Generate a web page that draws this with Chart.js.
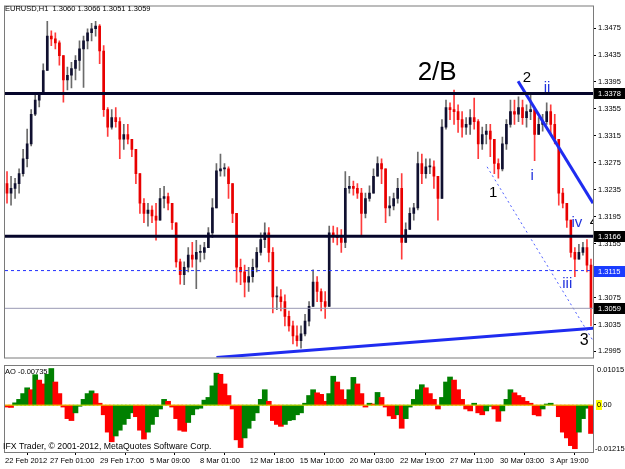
<!DOCTYPE html>
<html>
<head>
<meta charset="utf-8">
<script src="https://cdn.jsdelivr.net/npm/chart.js@4.4.0/dist/chart.umd.min.js"></script>
<style>
  html, body { margin: 0; padding: 0; background: #fff; }
  #wrap { position: relative; width: 625px; height: 469px; overflow: hidden; }
  #priceChart { position: absolute; left: 0; top: 0; }
  #aoChart { position: absolute; left: 0; top: 364px; }
</style>
</head>
<body>
<div id="wrap">
  <canvas id="priceChart" width="625" height="364"></canvas>
  <canvas id="aoChart" width="625" height="105"></canvas>
</div>
<script>
// EURUSD H1, 22 Feb - 4 Apr 2012, one candle per ~5 hourly bars
const firstOpen = 1.3244;
const highs = [
  1.3262,1.3255,1.3252,1.3266,1.3295,1.3325,1.3354,1.3376,1.3379,1.3422,
  1.3485,1.3471,1.3468,1.3456,1.3434,1.3417,1.3424,1.3434,1.3456,1.3463,
  1.3474,1.3482,1.3485,1.3480,1.3449,1.3357,1.3354,1.3357,1.3342,1.3332,
  1.3332,1.3310,1.3295,1.3259,1.3222,1.3215,1.3211,1.3215,1.3237,1.3240,
  1.3230,1.3215,1.3186,1.3132,1.3128,1.3149,1.3157,1.3160,1.3153,1.3157,
  1.3179,1.3222,1.3274,1.3288,1.3274,1.3269,1.3244,1.3200,1.3132,1.3123,
  1.3120,1.3132,1.3149,1.3171,1.3186,1.3179,1.3149,1.3091,1.3087,1.3079,
  1.3055,1.3040,1.3033,1.3033,1.3050,1.3069,1.3116,1.3106,1.3088,1.3084,
  1.3181,1.3181,1.3179,1.3176,1.3262,1.3255,1.3248,1.3244,1.3237,1.3230,
  1.3241,1.3266,1.3284,1.3281,1.3266,1.3225,1.3230,1.3252,1.3259,1.3186,
  1.3208,1.3215,1.3291,1.3288,1.3281,1.3281,1.3278,1.3255,1.3339,1.3368,
  1.3364,1.3383,1.3361,1.3351,1.3342,1.3354,1.3371,1.3339,1.3328,1.3332,
  1.3332,1.3310,1.3281,1.3313,1.3339,1.3368,1.3368,1.3373,1.3368,1.3361,
  1.3379,1.3354,1.3342,1.3347,1.3364,1.3361,1.3347,1.3310,1.3237,1.3215,
  1.3190,1.3149,1.3154,1.3157,1.3161,1.3132
];
const lows = [
  1.3215,1.3212,1.3222,1.3230,1.3255,1.3269,1.3300,1.3345,1.3358,1.3376,
  1.3412,1.3449,1.3444,1.3420,1.3365,1.3383,1.3386,1.3398,1.3412,1.3387,
  1.3444,1.3456,1.3463,1.3422,1.3344,1.3314,1.3325,1.3328,1.3281,1.3295,
  1.3303,1.3284,1.3244,1.3200,1.3186,1.3181,1.3186,1.3160,1.3190,1.3208,
  1.3205,1.3176,1.3120,1.3095,1.3094,1.3113,1.3120,1.3088,1.3128,1.3132,
  1.3149,1.3164,1.3208,1.3255,1.3255,1.3222,1.3186,1.3098,1.3094,1.3076,
  1.3084,1.3098,1.3113,1.3138,1.3149,1.3128,1.3052,1.3057,1.3055,1.3033,
  1.3025,1.3006,1.3003,1.3000,1.3018,1.3033,1.3062,1.3069,1.3055,1.3044,
  1.3062,1.3157,1.3153,1.3142,1.3149,1.3230,1.3227,1.3222,1.3168,1.3193,
  1.3218,1.3230,1.3255,1.3244,1.3186,1.3196,1.3205,1.3215,1.3132,1.3157,
  1.3176,1.3190,1.3205,1.3244,1.3252,1.3259,1.3237,1.3190,1.3222,1.3325,
  1.3339,1.3332,1.3320,1.3313,1.3317,1.3317,1.3325,1.3281,1.3295,1.3303,
  1.3284,1.3259,1.3252,1.3263,1.3295,1.3328,1.3332,1.3336,1.3332,1.3328,
  1.3339,1.3278,1.3317,1.3322,1.3332,1.3317,1.3303,1.3212,1.3208,1.3179,
  1.3135,1.3106,1.3132,1.3138,1.3113,1.3033
];
const closes = [
  1.3230,1.3237,1.3244,1.3259,1.3281,1.3303,1.3347,1.3368,1.3376,1.3412,
  1.3463,1.3459,1.3453,1.3434,1.3398,1.3405,1.3415,1.3427,1.3444,1.3456,
  1.3468,1.3474,1.3478,1.3441,1.3354,1.3328,1.3342,1.3336,1.3310,1.3317,
  1.3310,1.3295,1.3259,1.3215,1.3200,1.3205,1.3196,1.3190,1.3222,1.3225,
  1.3215,1.3186,1.3128,1.3109,1.3120,1.3138,1.3132,1.3142,1.3142,1.3149,
  1.3171,1.3208,1.3263,1.3266,1.3266,1.3244,1.3200,1.3120,1.3113,1.3098,
  1.3106,1.3120,1.3142,1.3161,1.3171,1.3142,1.3076,1.3076,1.3069,1.3047,
  1.3033,1.3018,1.3011,1.3021,1.3040,1.3062,1.3098,1.3084,1.3069,1.3062,
  1.3171,1.3167,1.3164,1.3157,1.3237,1.3240,1.3237,1.3230,1.3200,1.3222,
  1.3230,1.3255,1.3274,1.3266,1.3208,1.3211,1.3222,1.3237,1.3157,1.3176,
  1.3200,1.3208,1.3274,1.3259,1.3269,1.3269,1.3255,1.3222,1.3328,1.3357,
  1.3354,1.3351,1.3339,1.3328,1.3332,1.3342,1.3336,1.3303,1.3317,1.3322,
  1.3310,1.3274,1.3266,1.3303,1.3332,1.3351,1.3347,1.3357,1.3342,1.3351,
  1.3354,1.3317,1.3332,1.3336,1.3351,1.3332,1.3310,1.3230,1.3215,1.3190,
  1.3142,1.3132,1.3142,1.3149,1.3123,1.3059
];

// Awesome Oscillator, same columns
const aoValues = [
  -0.0005,-0.0006,0.0006,0.0015,0.0030,0.0045,0.0040,0.0079,0.0065,0.0055,
  0.0080,0.0095,0.0060,0.0030,-0.0005,-0.0035,-0.0040,-0.0020,-0.0003,0.0015,
  0.0030,0.0037,0.0030,0.0005,-0.0025,-0.0070,-0.0095,-0.0080,-0.0065,-0.0050,
  -0.0035,-0.0020,-0.0030,-0.0065,-0.0088,-0.0070,-0.0050,-0.0030,-0.0010,0.0015,
  0.0010,-0.0005,-0.0035,-0.0065,-0.0068,-0.0045,-0.0025,-0.0010,-0.0008,0.0013,
  0.0020,0.0050,0.0083,0.0080,0.0055,0.0025,-0.0010,-0.0090,-0.0110,-0.0085,
  -0.0060,-0.0040,-0.0020,0.0015,0.0040,0.0010,-0.0040,-0.0050,-0.0055,-0.0050,
  -0.0040,-0.0038,-0.0025,-0.0020,0.0005,0.0025,0.0040,0.0032,0.0028,0.0010,
  0.0030,0.0075,0.0060,0.0040,0.0015,0.0040,0.0072,0.0055,0.0030,-0.0005,
  0.0005,0.0003,0.0033,0.0020,-0.0005,-0.0028,-0.0035,-0.0025,-0.0060,-0.0035,
  -0.0005,0.0015,0.0040,0.0053,0.0045,0.0030,0.0015,-0.0010,0.0020,0.0060,
  0.0073,0.0065,0.0040,0.0015,-0.0010,-0.0015,0.0005,-0.0020,-0.0025,-0.0015,
  -0.0003,-0.0010,-0.0042,-0.0015,0.0015,0.0040,0.0032,0.0025,0.0020,0.0010,
  0.0005,-0.0025,-0.0028,-0.0010,0.0003,0.0005,0.0000,-0.0030,-0.0070,-0.0085,
  -0.0105,-0.0113,-0.0070,-0.0035,-0.0008,-0.00735
];

const priceTicks = [1.2995,1.3035,1.3075,1.3115,1.3155,1.3195,1.3235,1.3275,1.3315,1.3355,1.3395,1.3435,1.3475];
const timeTickCols = [-0.5,10.7,23.1,35.5,47.9,60.3,72.7,85.1,97.6,110.0,122.4,134.8];
const timeTickLabels = ['22 Feb 2012','27 Feb 01:00','29 Feb 17:00','5 Mar 09:00','8 Mar 01:00','12 Mar 18:00',
  '15 Mar 10:00','20 Mar 03:00','22 Mar 19:00','27 Mar 11:00','30 Mar 03:00','3 Apr 19:00'];

// horizontal levels and hand drawn lines (column, price)
const strongLevels = [1.3378, 1.3166];
const pendingLevel = 1.3115;
const bidLevel = 1.3059;
const supportLine = [{x: 52, y: 1.2986}, {x: 146.5, y: 1.3030}];
const resistLine = [{x: 126.9, y: 1.3396}, {x: 145.5, y: 1.3215}];
const waveLine = [{x: 119.2, y: 1.3269}, {x: 145.5, y: 1.3011}];

// wave counts
const waveText = ['2/B', '2', 'ii', 'i', '1', 'iv', '4', 'iii', '3'];
const waveCol = [106.8, 129.1, 134.1, 130.4, 120.7, 141.5, 145.7, 139.1, 143.3];
const wavePrice = [1.3409, 1.3401, 1.3386, 1.3256, 1.3230, 1.3186, 1.3187, 1.3095, 1.3011];

const FONT = "'Liberation Sans', Arial, sans-serif";
const SMALL = 7.5;
Chart.defaults.font.family = FONT;
Chart.defaults.font.size = SMALL;
Chart.defaults.color = '#000';

const opens = closes.map((c, i) => (i === 0 ? firstOpen : closes[i - 1]));
const upBar = closes.map((c, i) => c >= opens[i]);
const lastCol = closes.length - 1;

const hLine = (v) => [{x: -0.5, y: v}, {x: lastCol + 0.5, y: v}];

const frame = {
  id: 'frame',
  afterDraw(chart) {
    const {ctx, chartArea: a} = chart;
    ctx.save();
    ctx.strokeStyle = '#7a7a7a';
    ctx.lineWidth = 1;
    ctx.strokeRect(a.left - 0.5, a.top - 0.5, a.right - a.left + 1, a.bottom - a.top + 1);
    ctx.restore();
  }
};

const priceOverlay = {
  id: 'priceOverlay',
  afterDraw(chart) {
    const {ctx, chartArea: a, scales: {x, y}} = chart;
    ctx.save();
    ctx.font = SMALL + 'px ' + FONT;
    ctx.fillStyle = '#000';
    ctx.textBaseline = 'middle';
    ctx.fillText('EURUSD,H1  ' + [1.3060, 1.3066, 1.3051, closes[lastCol]].map(v => v.toFixed(4)).join(' '), 5, 9);

    ctx.save();
    ctx.beginPath();
    ctx.rect(a.left, a.top, a.right - a.left, a.bottom - a.top);
    ctx.clip();
    ctx.textAlign = 'center';
    waveText.forEach((t, i) => {
      const roman = /^[iv]+$/.test(t);
      const size = t === '2/B' ? 26 : (t === '3' ? 16 : 15);
      ctx.font = size + 'px ' + FONT;
      ctx.fillStyle = roman ? '#2233dd' : '#000';
      ctx.fillText(t, x.getPixelForValue(waveCol[i]), y.getPixelForValue(wavePrice[i]));
    });
    ctx.restore();

    // price tags on the axis
    ctx.font = SMALL + 'px ' + FONT;
    ctx.textAlign = 'left';
    [...strongLevels, pendingLevel, bidLevel].forEach(v => {
      const py = Math.round(y.getPixelForValue(v));
      ctx.fillStyle = v === pendingLevel ? '#1a3cff' : '#000';
      ctx.fillRect(a.right + 1, py - 5, 625 - a.right - 1, 11);
      ctx.fillStyle = '#fff';
      ctx.fillText(v.toFixed(4), a.right + 5, py + 0.5);
    });
    ctx.restore();
  }
};

const aoOverlay = {
  id: 'aoOverlay',
  afterDraw(chart) {
    const {ctx, chartArea: a, scales: {y}} = chart;
    const aoMax = y.max, aoMin = y.min;
    ctx.save();
    ctx.textBaseline = 'middle';
    ctx.fillStyle = '#000';
    ctx.font = SMALL + 'px ' + FONT;
    ctx.fillText('AO ' + aoValues[lastCol].toFixed(5), 5, a.top + 6);
    ctx.font = '8.7px ' + FONT;
    ctx.fillText('IFX Trader, \u00a9 2001-2012, MetaQuotes Software Corp.', 3, a.bottom - 5);
    ctx.font = SMALL + 'px ' + FONT;
    const zy = Math.round(y.getPixelForValue(0));
    ctx.fillStyle = '#ffff00';
    ctx.fillRect(a.right + 3, zy - 5, 6, 10);
    ctx.fillStyle = '#000';
    ctx.fillText(aoMax.toFixed(5), a.right + 4, a.top + 4);
    ctx.fillText('0.00', a.right + 4, zy);
    ctx.fillText(aoMin.toFixed(5), a.right + 2, a.bottom - 3);
    ctx.restore();
  }
};

const lineDs = (data, color, width, dash) => ({
  type: 'line', data, borderColor: color, borderWidth: width, borderDash: dash || [],
  pointRadius: 0, tension: 0, order: 0
});

new Chart(document.getElementById('priceChart'), {
  type: 'bar',
  data: {
    datasets: [
      {
        data: lows.map((l, i) => ({x: i, y: [l, highs[i]]})),
        backgroundColor: upBar.map(u => (u ? '#6b6b6b' : '#ff3b3b')),
        barThickness: 1, grouped: false, order: 2
      },
      {
        data: opens.map((o, i) => ({x: i, y: [o, closes[i]]})),
        backgroundColor: upBar.map(u => (u ? '#101030' : '#e80000')),
        barThickness: 2, minBarLength: 1, grouped: false, order: 1
      },
      lineDs(hLine(bidLevel), '#9a9ab4', 1),
      lineDs(hLine(pendingLevel), '#2030ff', 1, [3, 3]),
      ...strongLevels.map(v => lineDs(hLine(v), '#05052a', 3)),
      lineDs(waveLine, '#5060ff', 1, [2, 3]),
      lineDs(supportLine, '#1f2cf0', 3),
      lineDs(resistLine, '#1f2cf0', 3)
    ]
  },
  options: {
    responsive: false,
    animation: false,
    layout: {padding: {left: 5, top: 5, right: 0, bottom: 2}},
    plugins: {legend: {display: false}, tooltip: {enabled: false}},
    scales: {
      x: {type: 'linear', min: -0.5, max: lastCol + 0.5, offset: false, display: false},
      y: {
        type: 'linear', position: 'right', min: 1.2986, max: 1.3507,
        afterBuildTicks: s => { s.ticks = priceTicks.map(v => ({value: v})); },
        afterFit: s => { s.width = 32; },
        ticks: {padding: 2, font: {size: SMALL}, callback: v => v.toFixed(4)},
        grid: {drawOnChartArea: false, drawTicks: true, tickLength: 3, color: '#000'},
        border: {display: true, color: '#7a7a7a'}
      }
    }
  },
  plugins: [frame, priceOverlay]
});

new Chart(document.getElementById('aoChart'), {
  type: 'bar',
  data: {
    datasets: [
      {
        data: aoValues.map((v, i) => ({x: i, y: v})),
        backgroundColor: aoValues.map((v, i) => (i > 0 && v > aoValues[i - 1] ? '#008000' : '#ff0000')),
        barThickness: 5, grouped: false, order: 1
      },
      lineDs(hLine(0), '#e8e800', 1)
    ]
  },
  options: {
    responsive: false,
    animation: false,
    layout: {padding: {left: 5, top: 2, right: 0, bottom: 0}},
    plugins: {legend: {display: false}, tooltip: {enabled: false}},
    scales: {
      x: {
        type: 'linear', min: -0.5, max: lastCol + 0.5, offset: false,
        afterBuildTicks: s => { s.ticks = timeTickCols.map(v => ({value: v})); },
        afterFit: s => { s.height = 17; },
        ticks: {autoSkip: false, maxRotation: 0, align: 'start', padding: 1, font: {size: SMALL},
          callback: (v, i) => timeTickLabels[i]},
        grid: {drawOnChartArea: false, drawTicks: true, tickLength: 3, color: '#000'},
        border: {display: true, color: '#7a7a7a'}
      },
      y: {
        type: 'linear', position: 'right', min: -0.01215, max: 0.01015,
        afterFit: s => { s.width = 32; },
        ticks: {display: false},
        grid: {display: false},
        border: {display: true, color: '#7a7a7a'}
      }
    }
  },
  plugins: [frame, aoOverlay]
});
</script>
</body>
</html>
